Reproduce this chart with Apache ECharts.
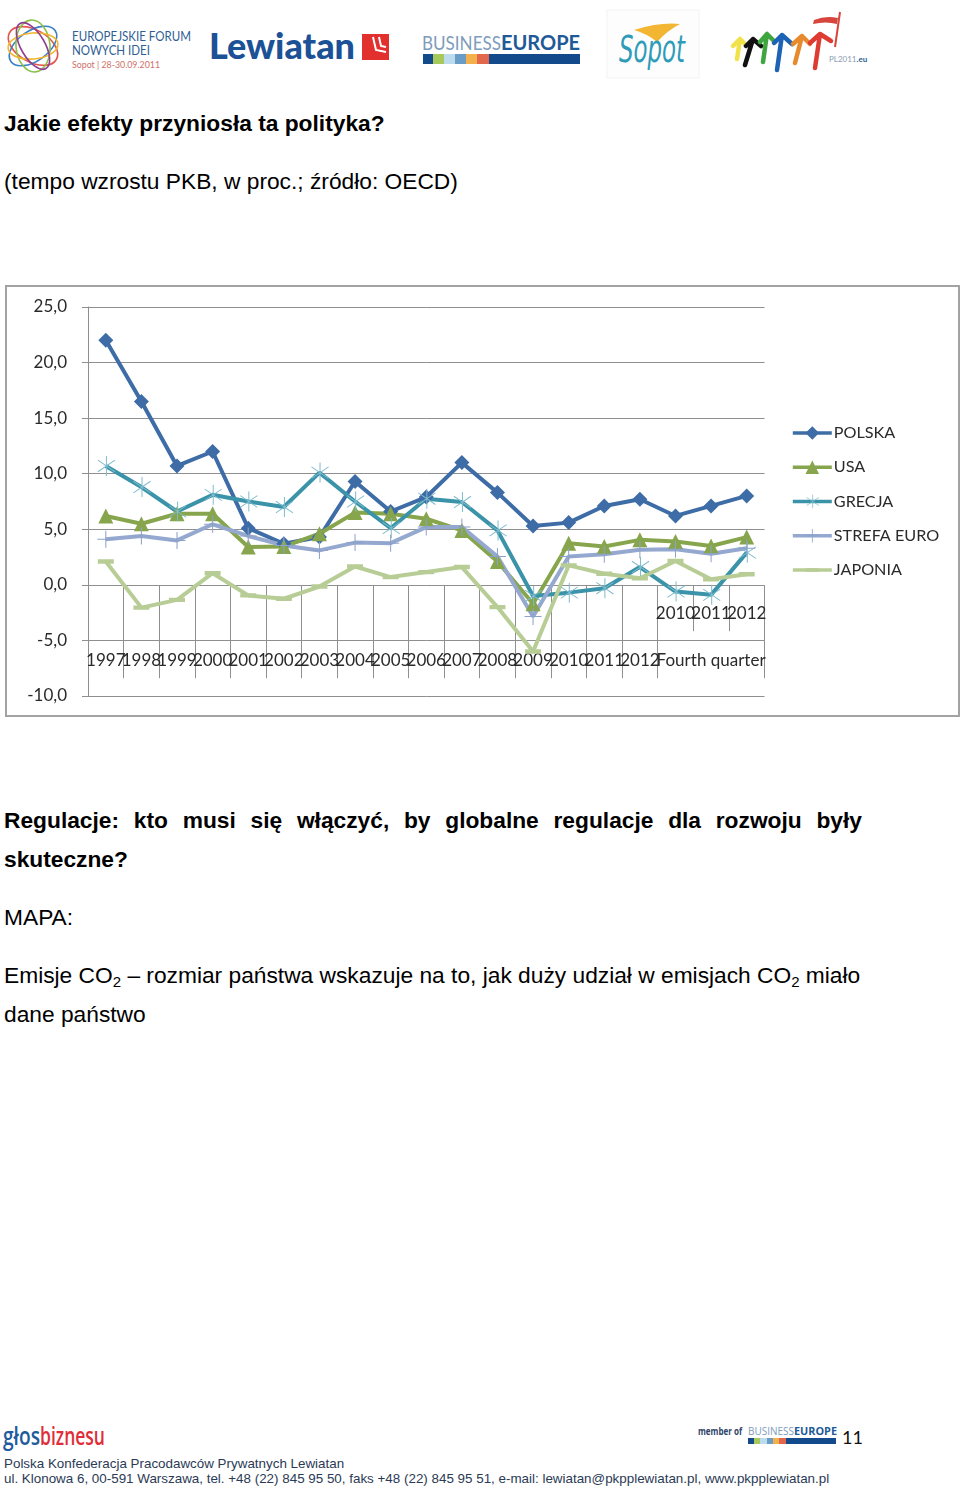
<!DOCTYPE html>
<html lang="pl"><head><meta charset="utf-8">
<style>
html,body{margin:0;padding:0;background:#fff;width:960px;height:1491px;overflow:hidden}
.t{position:absolute;left:4px;font-family:"Liberation Sans",Arial,sans-serif;font-size:22.75px;line-height:26px;color:#000;white-space:nowrap}
.b{font-weight:bold}
sub{font-size:15px;line-height:0;vertical-align:-4px}
#chart{position:absolute;left:5px;top:285px;width:955px;height:432px;box-sizing:border-box;}
#frame{position:absolute;left:5px;top:285px;width:955px;height:432px;box-sizing:border-box;border:2px solid #a3a3a3;pointer-events:none}
svg{position:absolute;left:0}
.f{position:absolute;left:4px;font-family:"Liberation Sans",Arial,sans-serif;font-size:13.4px;line-height:15px;color:#2b3a55;white-space:nowrap}
</style></head><body>

<svg style="top:0" width="960" height="85" viewBox="0 0 960 85" font-family="Lato,'Open Sans',sans-serif">
  <g fill="none" stroke-width="1.6">
    <ellipse cx="33" cy="46" rx="27" ry="16" stroke="#e2574c" transform="rotate(30 33 46)"/>
    <ellipse cx="33" cy="46" rx="27" ry="15" stroke="#3b7fc4" transform="rotate(-35 33 46)"/>
    <ellipse cx="33" cy="46" rx="26" ry="17" stroke="#8cc04b" transform="rotate(85 33 46)"/>
    <ellipse cx="33" cy="46" rx="25" ry="13" stroke="#f2b632" transform="rotate(-5 33 46)"/>
    <ellipse cx="33" cy="46" rx="26" ry="12" stroke="#8e3f93" transform="rotate(60 33 46)"/>
  </g>
  <text x="72" y="41" font-size="14" fill="#2f5e93" textLength="119" lengthAdjust="spacingAndGlyphs">EUROPEJSKIE FORUM</text>
  <text x="72" y="55" font-size="14" fill="#2f5e93" textLength="78" lengthAdjust="spacingAndGlyphs">NOWYCH IDEI</text>
  <text x="72" y="68" font-size="10" fill="#cf6f68" textLength="88" lengthAdjust="spacingAndGlyphs">Sopot | 28-30.09.2011</text>
  <text x="209" y="59" font-size="36" font-weight="900" fill="#1c5196" textLength="146" lengthAdjust="spacingAndGlyphs">Lewiatan</text>
  <rect x="362" y="34" width="27" height="26" fill="#e2302f"/>
  <path d="M373 37 L376 50 L386 52 M379 37 L381 46 L386 47" stroke="#fff" stroke-width="2" fill="none"/>
  <text x="422" y="50" font-size="20" fill="#7e9cbc" textLength="79" lengthAdjust="spacingAndGlyphs">BUSINESS</text>
  <text x="501" y="50" font-size="20" font-weight="bold" fill="#1e5a97" textLength="79" lengthAdjust="spacingAndGlyphs">EUROPE</text>
  <rect x="423" y="54" width="10" height="10" fill="#124a8c"/><rect x="433" y="54" width="11" height="10" fill="#a8c85a"/>
  <rect x="444" y="54" width="11" height="10" fill="#bcdcee"/><rect x="455" y="54" width="11" height="10" fill="#6a9cc8"/>
  <rect x="466" y="54" width="11" height="10" fill="#f4b04c"/><rect x="477" y="54" width="12" height="10" fill="#e2674b"/>
  <rect x="489" y="54" width="91" height="10" fill="#124a8c"/>
  <rect x="607" y="10" width="92" height="68" fill="#fdfdfd" stroke="#f3f3f3"/>
  <path d="M634 30 Q660 22 680 24 Q668 30 657 42 Q648 34 634 30Z" fill="#f2b632"/>
  <text x="619" y="62" font-size="38" font-style="italic" fill="#2e9bb8" font-family="'DejaVu Sans',sans-serif" textLength="66" lengthAdjust="spacingAndGlyphs">Sopot</text>
  <g fill="none" stroke-width="4.5" stroke-linecap="round" stroke-linejoin="round">
    <path d="M737 59 L740 39 M733 46 L740 39 L746 45" stroke="#f2e24a"/>
    <path d="M745 65 L753 39 M746 46 L753 39 L761 46" stroke="#111"/>
    <path d="M763 62 L767 34 M760 42 L767 34 L775 42" stroke="#3fa53f"/>
    <path d="M777 70 L782 35 M774 43 L782 35 L792 44" stroke="#1c62b5"/>
    <path d="M795 63 L802 36 M793 44 L802 36 L810 44" stroke="#e78a2e"/>
    <path d="M815 68 L820 34 M810 43 L820 34 L831 41" stroke="#de3b32"/>
  </g>
  <path d="M840 12 L835 47" fill="none" stroke="#d8453c" stroke-width="2"/>
  <path d="M814 20 Q826 15 838 18 L837 24 Q826 21 813 24Z" fill="#d8453c"/>
  <text x="829" y="62" font-size="8" fill="#8a9cb4">PL2011<tspan font-weight="bold" fill="#2f5e93">.eu</tspan></text>
</svg>

<div class="t b" style="top:110px">Jakie efekty przyniosła ta polityka?</div>
<div class="t" style="top:168px">(tempo wzrostu PKB, w proc.; źródło: OECD)</div>

<div id="chart"></div>
<div id="frame"></div>

<div class="t b" style="top:807px;width:858px;display:flex;justify-content:space-between"><span>Regulacje:</span><span>kto</span><span>musi</span><span>się</span><span>włączyć,</span><span>by</span><span>globalne</span><span>regulacje</span><span>dla</span><span>rozwoju</span><span>były</span></div>
<div class="t b" style="top:846px">skuteczne?</div>
<div class="t" style="top:904px">MAPA:</div>
<div class="t" style="top:962px">Emisje CO<sub>2</sub> – rozmiar państwa wskazuje na to, jak duży udział w emisjach CO<sub>2</sub> miało</div>
<div class="t" style="top:1001px">dane państwo</div>

<svg style="top:1415px" width="960" height="76" viewBox="0 1415 960 76" font-family="'Open Sans',sans-serif">
  <text x="3" y="1445" font-size="25" font-weight="600" fill="#1f5c9e" textLength="37" lengthAdjust="spacingAndGlyphs">głos</text>
  <text x="40" y="1445" font-size="25" font-weight="600" fill="#df2e38" textLength="65" lengthAdjust="spacingAndGlyphs">biznesu</text>
  <text x="698" y="1435" font-size="10" font-weight="bold" fill="#2f4468" textLength="44" lengthAdjust="spacingAndGlyphs">member of</text>
  <text x="748" y="1435" font-size="10.5" fill="#7e9cbc" textLength="46" lengthAdjust="spacingAndGlyphs">BUSINESS</text>
  <text x="794" y="1435" font-size="10.5" font-weight="bold" fill="#1e5a97" textLength="43" lengthAdjust="spacingAndGlyphs">EUROPE</text>
  <rect x="748" y="1438" width="6" height="6" fill="#124a8c"/><rect x="754" y="1438" width="6" height="6" fill="#a8c85a"/>
  <rect x="760" y="1438" width="7" height="6" fill="#bcdcee"/><rect x="767" y="1438" width="6" height="6" fill="#6a9cc8"/>
  <rect x="773" y="1438" width="6" height="6" fill="#f4b04c"/><rect x="779" y="1438" width="7" height="6" fill="#e2674b"/>
  <rect x="786" y="1438" width="50" height="6" fill="#124a8c"/>
  <text x="842" y="1444" font-size="18" fill="#111" font-family="Lato,sans-serif">11</text>
</svg>
<div class="f" style="top:1456px">Polska Konfederacja Pracodawców Prywatnych Lewiatan</div>
<div class="f" style="top:1471px">ul. Klonowa 6, 00-591 Warszawa, tel. +48 (22) 845 95 50, faks +48 (22) 845 95 51, e-mail: lewiatan@pkpplewiatan.pl, www.pkpplewiatan.pl</div>

<script src="https://cdn.jsdelivr.net/npm/echarts@6/dist/echarts.min.js"></script>
<script>
const lowerLabels = ['1997','1998','1999','2000','2001','2002','2003','2004','2005','2006','2007','2008','2009','2010','2011','2012','','Fourth quarter',''];
const upperLabels = ['','','','','','','','','','','','','','','','','2010','2011','2012'];
const longTicks = [1,2,3,4,5,6,7,8,9,10,11,12,13,14,15,16,19];
const shortTicks = [17,18];
const legendNames = ['POLSKA','USA','GRECJA','STREFA EURO','JAPONIA'];
const polska = [22.0,16.5,10.7,12.0,5.1,3.7,4.3,9.3,6.6,7.9,11.0,8.3,5.3,5.6,7.1,7.7,6.2,7.1,8.0];
const usa = [6.2,5.5,6.4,6.4,3.4,3.45,4.6,6.5,6.4,5.95,4.9,2.1,-1.7,3.75,3.45,4.05,3.9,3.5,4.3];
const grecja = [10.7,8.8,6.6,8.1,7.5,7.0,10.1,7.5,5.1,7.75,7.45,4.9,-1.0,-0.7,-0.3,1.6,-0.6,-0.9,2.9];
const strefa = [4.1,4.4,4.0,5.45,4.4,3.55,3.1,3.8,3.75,5.2,5.2,2.55,-2.85,2.55,2.75,3.15,3.2,2.8,3.3];
const japonia = [2.1,-2.05,-1.35,1.05,-0.95,-1.25,-0.15,1.65,0.7,1.15,1.6,-2.0,-6.0,1.75,1.0,0.6,2.15,0.5,0.95];

const gray = '#8f8f8f';
const textColor = '#2a2a2a';
const font = 'Lato';
const starPath = 'path://M9.5 0H10.5V20H9.5Z M0 9.5H0Z M1.2 4.6L1.7 3.8L18.8 15.4L18.3 16.2Z M18.3 3.8L18.8 4.6L1.7 16.2L1.2 15.4Z';
const plusPath = 'path://M9.4 0H10.6V20H9.4Z M0 9.4H20V10.6H0Z';
const dashPath = 'path://M0 7.25H20V12.75H0Z M10 0H10Z M10 20H10Z';

function zeroAxis(extra){
  return Object.assign({position:'bottom',offset:-110.8,axisLine:{show:false,onZero:false},splitLine:{show:false}},extra);
}
function line(name,data,color,mark,symbol,size){
  return {name,type:'line',data,xAxisIndex:0,yAxisIndex:0,symbol,symbolSize:size,symbolKeepAspect:true,
    showAllSymbol:true,animation:false,lineStyle:{color,width:4},itemStyle:{color:mark}};
}
const chart = echarts.init(document.getElementById('chart'));
chart.setOption({
  backgroundColor:'#fff',animation:false,
  grid:{left:83,top:22,width:676.5,height:389,containLabel:false},
  legend:{show:true,orient:'vertical',left:781,top:135,data:legendNames,itemWidth:39,itemHeight:17,itemGap:18.25,
    lineStyle:{width:3.6},
    textStyle:{fontFamily:font,fontSize:16.2,color:textColor,padding:[0,0,0,-3]}},
  xAxis:[
    zeroAxis({type:'category',data:lowerLabels,boundaryGap:true,axisTick:{show:false},
      axisLabel:{interval:0,margin:67,hideOverlap:false,fontFamily:font,fontSize:17,color:textColor}}),
    zeroAxis({type:'category',data:upperLabels,boundaryGap:true,axisTick:{show:false},
      axisLabel:{interval:0,margin:20,hideOverlap:false,fontFamily:font,fontSize:17,color:textColor}}),
    zeroAxis({type:'value',min:0,max:19,interval:1,axisLabel:{show:false},
      axisTick:{show:true,customValues:longTicks,length:93,lineStyle:{color:gray,width:1}}}),
    zeroAxis({type:'value',min:0,max:19,interval:1,axisLabel:{show:false},
      axisTick:{show:true,customValues:shortTicks,length:46,lineStyle:{color:gray,width:1}}})
  ],
  yAxis:{type:'value',min:-10,max:25,interval:5,
    axisLine:{show:true,onZero:false,lineStyle:{color:gray,width:1}},
    axisTick:{show:true,length:6,lineStyle:{color:gray}},
    splitLine:{show:true,lineStyle:{color:gray,width:1}},
    axisLabel:{margin:21,fontFamily:font,fontSize:17,color:textColor,formatter:v=>v.toFixed(1).replace('.',',')}},
  series:[
    line('POLSKA',polska,'#3e6ca6','#3e6ca6','diamond',15),
    line('USA',usa,'#87a54c','#87a54c','triangle',15),
    line('GRECJA',grecja,'#3a93a8','#7dbccd',starPath,20),
    line('STREFA EURO',strefa,'#94a8d0','#8da2c9',plusPath,17),
    line('JAPONIA',japonia,'#b8cd96','#b8cd96',dashPath,16)
  ]
});
</script>
</body></html>
